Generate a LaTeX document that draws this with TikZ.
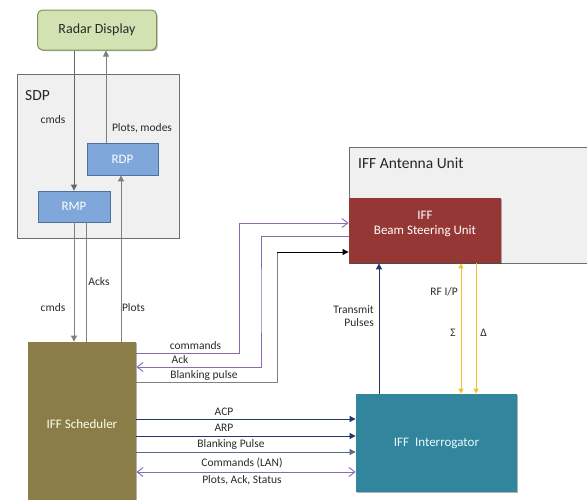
\documentclass[tikz,border=0pt]{standalone}
\usepackage{fontspec}
\setmainfont{Carlito}
\usetikzlibrary{arrows.meta,shadows,calc}
\definecolor{radarfill}{HTML}{D2E2B3}
\definecolor{radardraw}{HTML}{7F9456}
\definecolor{sdpfill}{HTML}{F0F0F0}
\definecolor{sdpdraw}{HTML}{6E6E6E}
\definecolor{procfill}{HTML}{7FA7DA}
\definecolor{procdraw}{HTML}{4F6F9F}
\definecolor{schedfill}{HTML}{8A7D48}
\definecolor{bsufill}{HTML}{953735}
\definecolor{interfill}{HTML}{31859C}
\definecolor{linegray}{HTML}{808080}
\definecolor{linepurple}{HTML}{8B6BB0}
\definecolor{linenavy}{HTML}{1F3864}
\definecolor{lineyellow}{HTML}{F5C02A}
\definecolor{labeltext}{HTML}{2A2A2A}
\tikzset{
  boxshadow/.style={drop shadow={shadow xshift=1.2pt,shadow yshift=-1.2pt,opacity=0.3,fill=black}},
  radarbox/.style={draw=radardraw,fill=radarfill,rounded corners=5pt,line width=1pt,boxshadow,font=\fontsize{14}{16}\selectfont,text=labeltext},
  container/.style={draw=sdpdraw,fill=sdpfill,line width=1pt,boxshadow},
  procbox/.style={draw=procdraw,fill=procfill,line width=0.8pt,text=white,font=\fontsize{13}{15}\selectfont},
  mainbox/.style={line width=0.8pt,text=white,font=\fontsize{13}{15.5}\selectfont,boxshadow,align=center},
  lbl/.style={text=labeltext,font=\fontsize{11.5}{13.5}\selectfont,inner sep=0pt},
  big/.style={text=black!85,font=\fontsize{15.5}{18}\selectfont,inner sep=0pt},
  grayline/.style={draw=linegray,line width=0.9pt},
  purpline/.style={draw=linepurple,line width=0.9pt},
  navyline/.style={draw=linenavy,line width=0.9pt},
  yelline/.style={draw=lineyellow,line width=1pt},
  tri/.tip={Triangle[length=6pt,width=6pt]},
  barb/.tip={Straight Barb[length=6pt,width=9pt,line width=0.9pt]},
}
\begin{document}
\begin{tikzpicture}[x=1pt,y=-1pt]
\useasboundingbox (0,0) rectangle (587,499);
\clip (0,0) rectangle (587,499);
\fill[white] (0,0) rectangle (587,499);

% Boxes
\node[radarbox,minimum width=119pt,minimum height=40pt] (radar) at (97,30) {Radar Display};
\node[container,minimum width=162pt,minimum height=164pt] (sdp) at (98,156) {};
\node[big,anchor=west] (sdplbl) at (25,96) {SDP};
\node[procbox,minimum width=71pt,minimum height=32pt] (rdp) at (122.5,159) {RDP};
\node[procbox,minimum width=72pt,minimum height=31pt] (rmp) at (74,206.5) {RMP};

\node[container,minimum width=245pt,minimum height=116pt] (ant) at (471.5,205) {};
\node[big,anchor=west] (antlbl) at (358,163) {IFF Antenna Unit};
\node[mainbox,fill=bsufill,minimum width=152pt,minimum height=65pt,text height=11pt] (bsu) at (425,230.5) {IFF\\Beam Steering Unit};

\node[mainbox,fill=schedfill,text=white!92!yellow,minimum width=108pt,minimum height=164pt] (sched) at (82,424) {IFF Scheduler};
\node[mainbox,fill=interfill,text=white!92!cyan,minimum width=161pt,minimum height=98pt] (inter) at (436.5,443) {IFF\ \ Interrogator};

% SDP internal connectors
\draw[grayline,-tri,draw=linegray!80!black] (radar.south -| 74,0) -- (rmp.north -| 74,0);
\draw[grayline,-tri] (rdp.north -| 106,0) -- (radar.south -| 106,0);
\node[lbl] (lcmds1) at (53,120) {cmds};
\node[lbl] (lplotsmodes) at (142,128) {Plots, modes};

% SDP to scheduler
\draw[grayline,-tri] (rmp.south -| 74,0) -- (sched.north -| 74,0);
\draw[grayline] (sched.north -| 86,0) -- (rmp.south -| 86,0);
\draw[grayline,-tri] (sched.north -| 121,0) -- (rdp.south -| 121,0);
\node[lbl] (lcmds2) at (53,308) {cmds};
\node[lbl] (lacks) at (99,282) {Acks};
\node[lbl] (lplots) at (133.5,308) {Plots};

% Scheduler to BSU
\draw[purpline,-barb] (sched.east |- 0,353) -| (239,223) -- (bsu.west |- 0,223);
\draw[purpline,-barb] (bsu.west |- 0,236) -| (261,300) |- (sched.east |- 0,367);
\coordinate (bpc) at (277,252);
\draw[grayline] (sched.east |- 0,382) -| (bpc);
\draw[line width=0.9pt,black,-tri] (bpc) -- (bsu.west |- bpc);
\node[lbl] (lcommands) at (195.5,346) {commands};
\node[lbl] (lack) at (180,360) {Ack};
\node[lbl] (lblank) at (204,375) {Blanking pulse};

% Scheduler to interrogator
\draw[navyline,-tri] (sched.east |- 0,419) -- (inter.west |- 0,419);
\draw[navyline,-tri] (sched.east |- 0,436) -- (inter.west |- 0,436);
\draw[navyline,draw=linenavy!75!white,-tri] (sched.east |- 0,452) -- (inter.west |- 0,452);
\draw[purpline,barb-barb] (sched.east |- 0,472) -- (inter.west |- 0,472);
\node[lbl] (lacp) at (224,412) {ACP};
\node[lbl] (larp) at (224,428) {ARP};
\node[lbl] (lbp) at (231,444) {Blanking Pulse};
\node[lbl] (llan) at (242,463) {Commands (LAN)};
\node[lbl] (lpas) at (242,480) {Plots, Ack, Status};

% Interrogator to BSU
\draw[navyline,-tri] (inter.north -| 379,0) -- (bsu.south -| 379,0);
\node[lbl,align=right,anchor=east] (ltx) at (374,316) {Transmit\\Pulses};
\draw[yelline,{Triangle[length=5pt,width=5pt]}-{Triangle[length=5pt,width=5pt]}] (bsu.south -| 461,0) -- (inter.north -| 461,0);
\draw[yelline,-{Triangle[length=5pt,width=5pt]}] (bsu.south -| 476,0) -- (inter.north -| 476,0);
\node[lbl,anchor=east] (lrf) at (458,292) {RF I/P};
\node[lbl] (lsig) at (453,333) {Σ};
\node[lbl] (ldel) at (483.5,333) {Δ};
\end{tikzpicture}
\end{document}
